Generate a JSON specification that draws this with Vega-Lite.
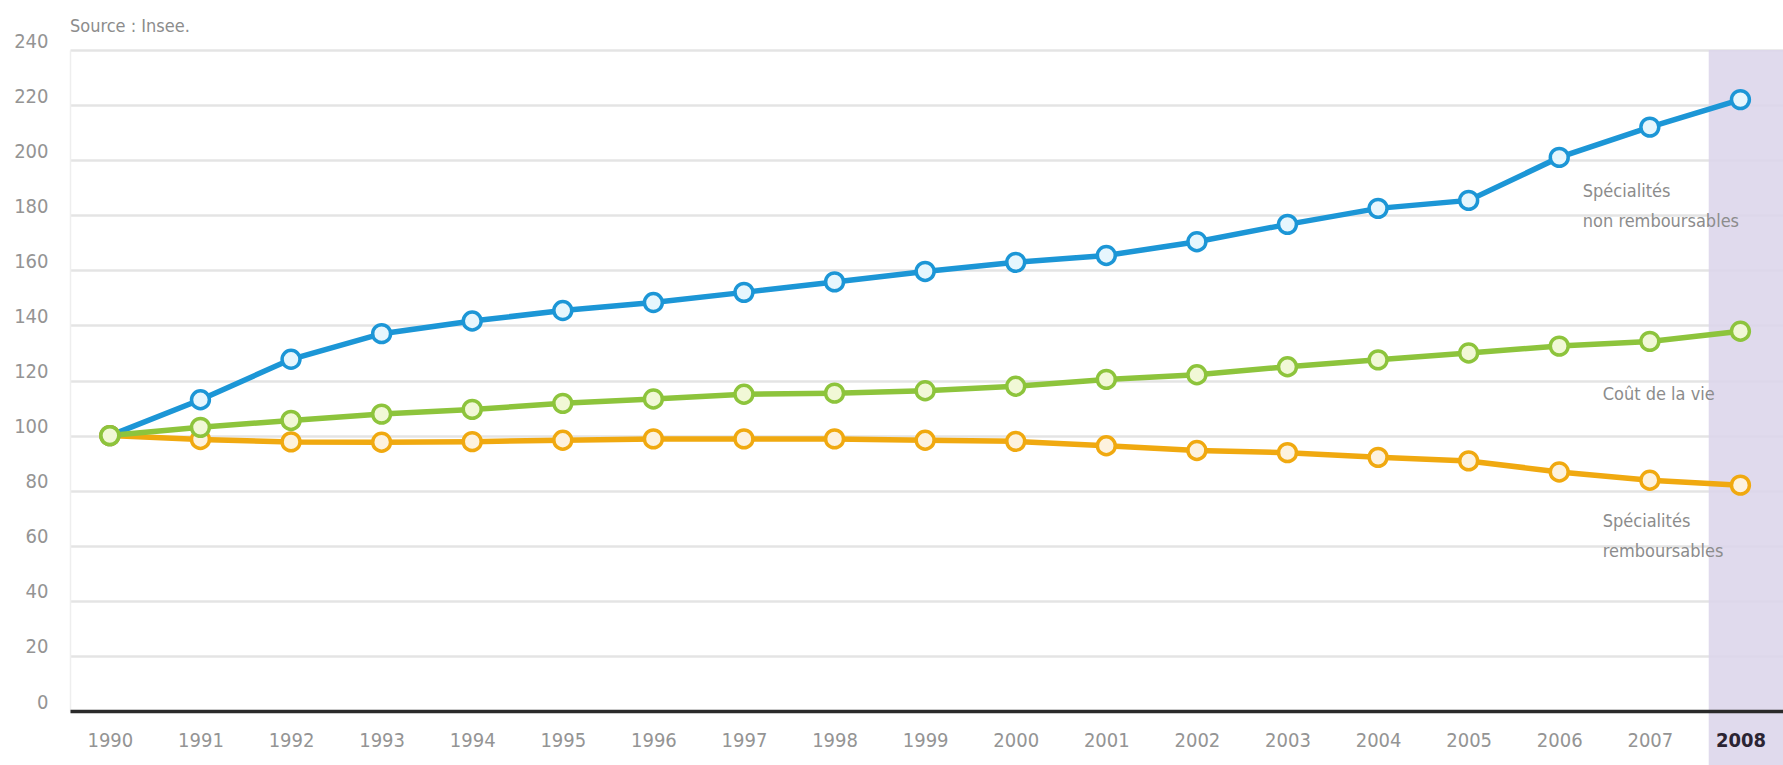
{
  "$schema": "https://vega.github.io/schema/vega-lite/v6.json",
  "width": 1713,
  "height": 661,
  "autosize": {"type": "none"},
  "padding": {"left": 70, "top": 50, "right": 0, "bottom": 54},
  "background": "#ffffff",
  "config": {
    "view": {"stroke": null},
    "font": "DejaVu Sans Condensed, Liberation Sans Narrow, sans-serif"
  },
  "datasets": {
    "series": [
      {"year": 1990, "series": "nonrem", "value": 100},
      {"year": 1991, "series": "nonrem", "value": 113},
      {"year": 1992, "series": "nonrem", "value": 127.7},
      {"year": 1993, "series": "nonrem", "value": 137},
      {"year": 1994, "series": "nonrem", "value": 141.6},
      {"year": 1995, "series": "nonrem", "value": 145.4},
      {"year": 1996, "series": "nonrem", "value": 148.3},
      {"year": 1997, "series": "nonrem", "value": 152},
      {"year": 1998, "series": "nonrem", "value": 155.8},
      {"year": 1999, "series": "nonrem", "value": 159.6},
      {"year": 2000, "series": "nonrem", "value": 162.9},
      {"year": 2001, "series": "nonrem", "value": 165.4},
      {"year": 2002, "series": "nonrem", "value": 170.4},
      {"year": 2003, "series": "nonrem", "value": 176.7},
      {"year": 2004, "series": "nonrem", "value": 182.5},
      {"year": 2005, "series": "nonrem", "value": 185.4},
      {"year": 2006, "series": "nonrem", "value": 201},
      {"year": 2007, "series": "nonrem", "value": 212},
      {"year": 2008, "series": "nonrem", "value": 222},
      {"year": 1990, "series": "rem", "value": 100},
      {"year": 1991, "series": "rem", "value": 98.6},
      {"year": 1992, "series": "rem", "value": 97.7},
      {"year": 1993, "series": "rem", "value": 97.6},
      {"year": 1994, "series": "rem", "value": 97.8},
      {"year": 1995, "series": "rem", "value": 98.3},
      {"year": 1996, "series": "rem", "value": 98.8},
      {"year": 1997, "series": "rem", "value": 98.8},
      {"year": 1998, "series": "rem", "value": 98.8},
      {"year": 1999, "series": "rem", "value": 98.3},
      {"year": 2000, "series": "rem", "value": 97.9},
      {"year": 2001, "series": "rem", "value": 96.3},
      {"year": 2002, "series": "rem", "value": 94.6},
      {"year": 2003, "series": "rem", "value": 93.8},
      {"year": 2004, "series": "rem", "value": 92.1},
      {"year": 2005, "series": "rem", "value": 90.8},
      {"year": 2006, "series": "rem", "value": 86.8},
      {"year": 2007, "series": "rem", "value": 83.8},
      {"year": 2008, "series": "rem", "value": 82},
      {"year": 1990, "series": "cout", "value": 100},
      {"year": 1991, "series": "cout", "value": 103},
      {"year": 1992, "series": "cout", "value": 105.5},
      {"year": 1993, "series": "cout", "value": 107.8},
      {"year": 1994, "series": "cout", "value": 109.5},
      {"year": 1995, "series": "cout", "value": 111.7},
      {"year": 1996, "series": "cout", "value": 113.3},
      {"year": 1997, "series": "cout", "value": 115},
      {"year": 1998, "series": "cout", "value": 115.4},
      {"year": 1999, "series": "cout", "value": 116.3},
      {"year": 2000, "series": "cout", "value": 117.9},
      {"year": 2001, "series": "cout", "value": 120.4},
      {"year": 2002, "series": "cout", "value": 122.1},
      {"year": 2003, "series": "cout", "value": 125},
      {"year": 2004, "series": "cout", "value": 127.5},
      {"year": 2005, "series": "cout", "value": 130},
      {"year": 2006, "series": "cout", "value": 132.5},
      {"year": 2007, "series": "cout", "value": 134.2},
      {"year": 2008, "series": "cout", "value": 137.9}
    ],
    "band": [{"start": 2007.65, "end": 2008.47, "low": -20, "high": 240}],
    "notes": [
      {"x": 2006.26, "y": 188.5, "text": ["Spécialités", "non remboursables"]},
      {"x": 2006.48, "y": 114.7, "text": ["Coût de la vie"]},
      {"x": 2006.48, "y": 68.6, "text": ["Spécialités", "remboursables"]},
      {"x": 1989.56, "y": 248.4, "text": ["Source : Insee."]}
    ]
  },
  "layer": [
    {
      "data": {"name": "band"},
      "mark": {"type": "rect", "color": "#dcd5ea", "opacity": 0.88, "clip": false},
      "encoding": {
        "x": {"field": "start", "type": "quantitative"},
        "x2": {"field": "end"},
        "y": {"field": "low", "type": "quantitative"},
        "y2": {"field": "high"}
      }
    },
    {
      "data": {"name": "series"},
      "mark": {"type": "line", "strokeWidth": 5.5},
      "encoding": {
        "x": {
          "field": "year", "type": "quantitative",
          "scale": {"domain": [1989.56, 2008.47], "nice": false, "zero": false},
          "axis": {
            "title": null,
            "values": [1990,1991,1992,1993,1994,1995,1996,1997,1998,1999,2000,2001,2002,2003,2004,2005,2006,2007,2008],
            "format": "d",
            "grid": false,
            "ticks": false,
            "domainColor": "#2a2a2a",
            "domainWidth": 3.5,
            "labelFontSize": 20,
            "labelPadding": 19,
            "labelColor": {"condition": {"test": "datum.value == 2008", "value": "#2b2433"}, "value": "#949494"},
            "labelFontWeight": {"condition": {"test": "datum.value == 2008", "value": "bold"}, "value": "normal"},
            "zindex": 1
          }
        },
        "y": {
          "field": "value", "type": "quantitative",
          "scale": {"domain": [0, 240], "nice": false},
          "axis": {
            "title": null,
            "values": [0,20,40,60,80,100,120,140,160,180,200,220,240],
            "grid": true,
            "gridColor": "#e4e4e4",
            "gridWidth": 2.5,
            "ticks": false,
            "domainColor": "#eeeeee",
            "domainWidth": 1.5,
            "labelFontSize": 20,
            "labelColor": "#949494",
            "labelPadding": 22,
            "labelOffset": -9,
            "zindex": 0
          }
        },
        "stroke": {
          "field": "series", "type": "nominal",
          "scale": {"domain": ["rem", "nonrem", "cout"], "range": ["#f0a910", "#1c96d6", "#8dc43c"]},
          "legend": null
        },
        "order": {"field": "year"}
      }
    },
    {
      "data": {"name": "series"},
      "mark": {"type": "point", "shape": "circle", "filled": false, "size": 320, "strokeWidth": 3.5, "opacity": 1},
      "encoding": {
        "x": {"field": "year", "type": "quantitative"},
        "y": {"field": "value", "type": "quantitative"},
        "stroke": {
          "field": "series", "type": "nominal",
          "scale": {"domain": ["rem", "nonrem", "cout"], "range": ["#e3ae2c", "#2a8ac4", "#9bc64a"]},
          "legend": null
        },
        "fill": {
          "field": "series", "type": "nominal",
          "scale": {"domain": ["rem", "nonrem", "cout"], "range": ["#fdf2de", "#e6f6fd", "#f1f8d6"]},
          "legend": null
        },
        "fillOpacity": {"value": 1}
      }
    },
    {
      "data": {"name": "notes"},
      "mark": {"type": "text", "align": "left", "baseline": "middle", "fontSize": 18, "lineHeight": 30, "color": "#8c8c8c", "clip": false},
      "encoding": {
        "x": {"field": "x", "type": "quantitative"},
        "y": {"field": "y", "type": "quantitative"},
        "text": {"field": "text"}
      }
    }
  ]
}
